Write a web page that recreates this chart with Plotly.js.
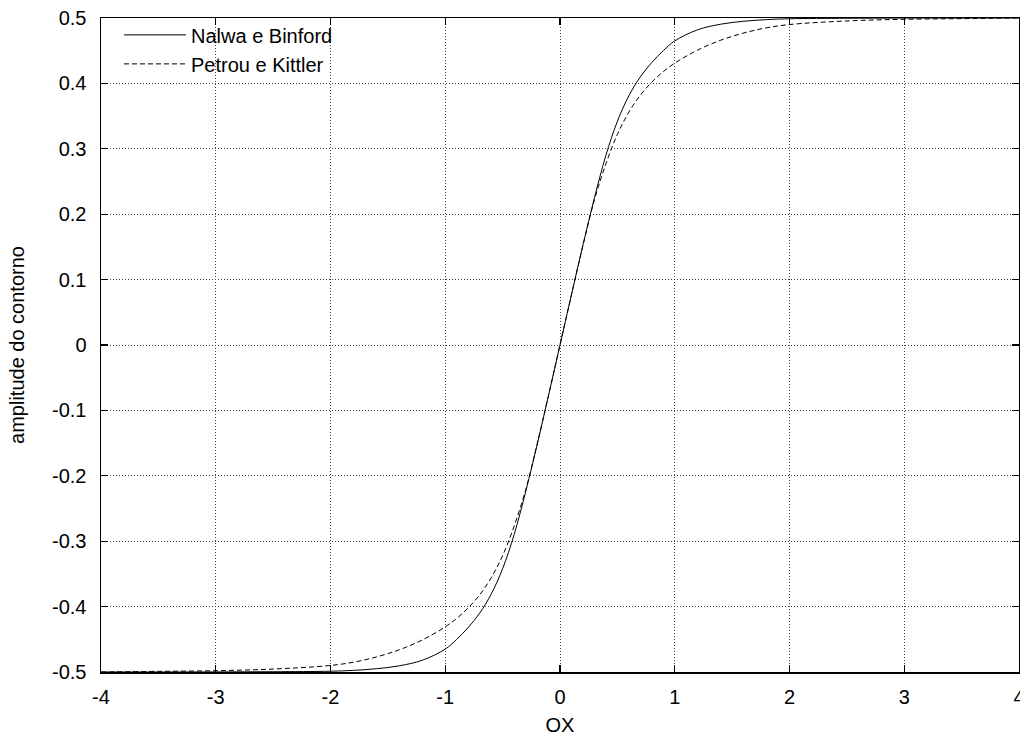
<!DOCTYPE html>
<html>
<head>
<meta charset="utf-8">
<script src="https://cdn.plot.ly/plotly-3.0.1.min.js"></script>
<style>html,body{margin:0;padding:0;background:#fff;}#chart{width:1020px;height:736px;}</style>
</head>
<body>
<div id="chart"></div>
<script>
// Values
const xs = [-4, -3.5, -3, -2.5, -2, -1.8, -1.6, -1.4, -1.2, -1, -0.9, -0.8, -0.7, -0.6, -0.5, -0.4, -0.3, -0.2, -0.1, 0,
            0.1, 0.2, 0.3, 0.4, 0.5, 0.6, 0.7, 0.8, 0.9, 1, 1.2, 1.4, 1.6, 1.8, 2, 2.5, 3, 3.5, 4];
const nalwaY = [-0.5, -0.5, -0.4999, -0.4996, -0.4988, -0.4975, -0.495, -0.4905, -0.482, -0.465, -0.45, -0.432, -0.41, -0.381, -0.342, -0.29, -0.225, -0.153, -0.077, 0,
                0.077, 0.153, 0.225, 0.29, 0.342, 0.381, 0.41, 0.432, 0.45, 0.465, 0.482, 0.4905, 0.495, 0.4975, 0.4988, 0.4996, 0.4999, 0.5, 0.5];
const petrouY = [-0.5, -0.499, -0.498, -0.4955, -0.49, -0.485, -0.477, -0.466, -0.451, -0.431, -0.418, -0.402, -0.382, -0.356, -0.322, -0.277, -0.222, -0.152, -0.077, 0,
                 0.077, 0.152, 0.222, 0.277, 0.322, 0.356, 0.382, 0.402, 0.418, 0.431, 0.451, 0.466, 0.477, 0.485, 0.49, 0.4955, 0.498, 0.499, 0.5];
const xTicks = [-4, -3, -2, -1, 0, 1, 2, 3, 4];
const yTicks = [-0.5, -0.4, -0.3, -0.2, -0.1, 0, 0.1, 0.2, 0.3, 0.4, 0.5];
const yTickText = ['-0.5', '-0.4', '-0.3', '-0.2', '-0.1', '0', '0.1', '0.2', '0.3', '0.4', '0.5'];

const font = {family: '"Liberation Sans", Arial, Helvetica, sans-serif', size: 20, color: '#000'};

const traces = [
  {x: xs, y: nalwaY, type: 'scatter', mode: 'lines', name: 'Nalwa e Binford',
   line: {color: '#000', width: 1, shape: 'spline', smoothing: 1}},
  {x: xs, y: petrouY, type: 'scatter', mode: 'lines', name: 'Petrou e Kittler',
   line: {color: '#000', width: 1, dash: '5px,3px', shape: 'spline', smoothing: 1}}
];

const axisCommon = {
  showline: true, linecolor: '#000', linewidth: 1.5, mirror: 'allticks',
  ticks: 'inside', ticklen: 7, tickwidth: 1.2, tickcolor: '#000',
  showgrid: true, gridcolor: '#444', gridwidth: 1, griddash: '1px,2px',
  zeroline: false, tickfont: font, ticklabeloverflow: 'allow'
};

const layout = {
  width: 1020, height: 736,
  margin: {l: 101, r: 1, t: 18, b: 64},
  paper_bgcolor: '#fff', plot_bgcolor: '#fff',
  font: font,
  showlegend: true,
  legend: {x: 0.0196, y: 1.004, xanchor: 'left', yanchor: 'top', bgcolor: 'rgba(0,0,0,0)',
           borderwidth: 0, font: font, itemwidth: 62, tracegroupgap: 0},
  xaxis: Object.assign({}, axisCommon, {
    range: [-4, 4], tickmode: 'array', tickvals: xTicks, ticktext: xTicks.map(String),
    ticklabelstandoff: 6,
    title: {text: 'OX', font: font, standoff: 13}
  }),
  yaxis: Object.assign({}, axisCommon, {
    range: [-0.5, 0.5], tickmode: 'array', tickvals: yTicks, ticktext: yTickText,
    ticklabelstandoff: 9,
    title: {text: 'amplitude do contorno', font: font, standoff: 22}
  })
};

Plotly.newPlot('chart', traces, layout, {staticPlot: true, displayModeBar: false});
</script>
</body>
</html>
